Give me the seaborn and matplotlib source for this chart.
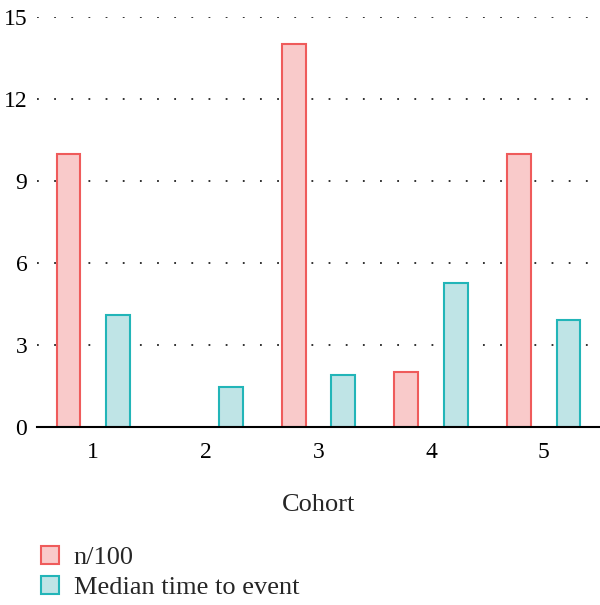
import matplotlib
matplotlib.use("Agg")
import matplotlib.pyplot as plt
from matplotlib.patches import Patch
import pandas as pd
import seaborn as sns

cohorts = ["1", "2", "3", "4", "5"]
series_labels = ["n/100", "Median time to event"]
n_per_100 = [10, 0, 14, 2, 10]
median_time = [4.1, 1.47, 1.9, 5.28, 3.92]
y_ticks = [0, 3, 6, 9, 12, 15]

face_colors = ["#f9caca", "#bfe4e6"]
edge_colors = ["#ef5b5b", "#22b5b8"]

df = pd.DataFrame({
    "Cohort": cohorts * 2,
    "value": n_per_100 + median_time,
    "series": [series_labels[0]] * len(cohorts) + [series_labels[1]] * len(cohorts),
})

sns.set_style("white")
plt.rcParams["font.family"] = ["Liberation Serif", "DejaVu Serif"]

fig = plt.figure(figsize = (6.0, 6.05), dpi = 100)
ax = fig.add_axes([37 / 600, 1 - 427 / 605, 1 - 37 / 600, (427 - 17) / 605])

sns.barplot(data = df, x = "Cohort", y = "value", hue = "series", hue_order = series_labels, order = cohorts,
            palette = face_colors, width = 0.88, gap = 0.52, linewidth = 1.5, ax = ax, legend = False)
for k, container in enumerate(ax.containers):
    for bar in container:
        bar.set_edgecolor(edge_colors[k])
        bar.set_facecolor(face_colors[k])
        if bar.get_height() == 0:
            bar.set_visible(False)

ax.set_xlim(-0.5, 4.5)
ax.set_ylim(0, 15)
ax.set_yticks(y_ticks)
ax.tick_params(axis = "both", length = 0, labelsize = 17, colors = "black")
ax.tick_params(axis = "x", pad = 11)
ax.tick_params(axis = "y", pad = 7)
for t in y_ticks[1:]:
    ax.axhline(t, color = "#222222", linewidth = 1.3, linestyle = (0, (1, 8.5)), zorder = 0)

for side in ["left", "right", "top"]:
    ax.spines[side].set_visible(False)
ax.spines["bottom"].set_color("black")
ax.spines["bottom"].set_linewidth(1.5)

ax.set_ylabel("")
ax.set_xlabel("Cohort", fontsize = 19, labelpad = 22)

handles = [Patch(facecolor = face_colors[k], edgecolor = edge_colors[k], linewidth = 1.5) for k in range(2)]
fig.legend(handles = handles, labels = series_labels, loc = "upper left", bbox_to_anchor = (30 / 600, 1 - 535 / 605),
           frameon = False, fontsize = 19, handlelength = 0.7, handleheight = 0.7, handletextpad = 0.55,
           labelspacing = 0.25, borderaxespad = 0)

plt.savefig("out.png", format = "png", dpi = 100)
